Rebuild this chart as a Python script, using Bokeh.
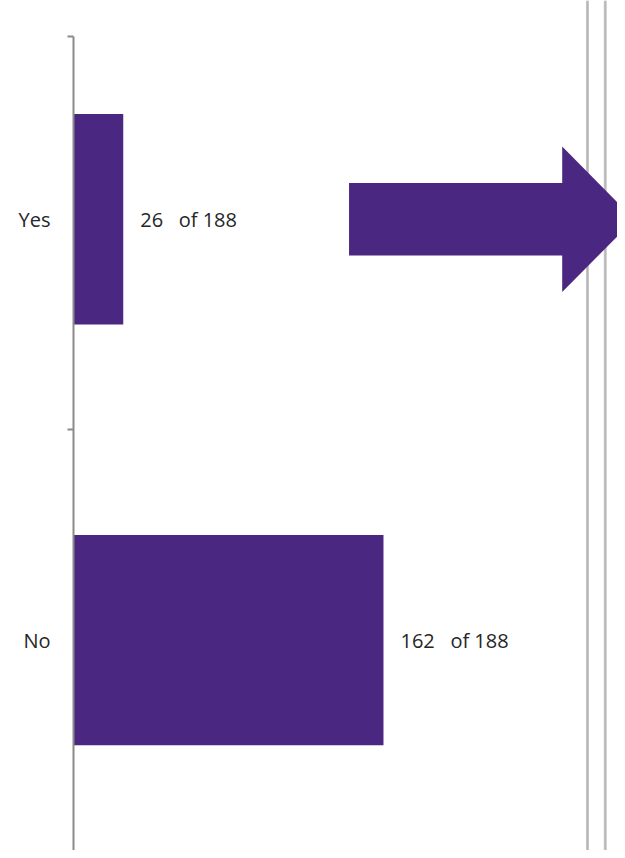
from bokeh.plotting import figure
from bokeh.models import Range1d, LinearAxis, FixedTicker, ColumnDataSource
from bokeh.core.properties import value
from bokeh.embed import file_html
from bokeh.resources import INLINE

# ---- data ----
categories = ["Yes", "No"]
counts = [26, 162]
total = 188

BAR_COLOR = "#4A2781"
FONT = "Open Sans"

n = len(categories)
ypos = [n - i - 0.5 for i in range(n)]
labels = [f"{c}\u00a0\u00a0 of {total}" for c in counts]

src = ColumnDataSource(dict(y=ypos, cnt=counts, lab=labels, cat=categories))

p = figure(width=617, height=850, output_backend="svg", toolbar_location=None,
           x_range=Range1d(0, 284.3), y_range=Range1d(0, 2.02),
           min_border_left=73, min_border_right=0, min_border_top=0, min_border_bottom=0,
           x_axis_location=None, y_axis_location=None)
p.outline_line_color = None
p.xgrid.visible = False
p.ygrid.visible = False
p.background_fill_color = "white"
p.border_fill_color = "white"

# decorative double vertical rules on right
p.segment(x0=[268.6, 277.9], y0=[0, 0], x1=[268.6, 277.9], y1=[2.02, 2.02],
          line_color="#c6c6c6", line_width=3)
p.segment(x0=[268.6, 277.9], y0=[0, 0], x1=[268.6, 277.9], y1=[2.02, 2.02],
          line_color="#b4b4b4", line_width=1)

# bars
p.hbar(y="y", left=0, right="cnt", height=0.5, source=src,
       fill_color=BAR_COLOR, line_color=None)

# value labels
p.text(x="cnt", y="y", text="lab", source=src, x_offset=17,
       text_baseline="middle", text_align="left",
       text_font=value(FONT), text_font_size="20px", text_color="#262626")

# arrow pointing right from Yes row
ay = 1.5
ax_start, ax_head, ax_tip = 144.0, 255.4, 293.0
sh, hh = 0.086, 0.173
p.patch(x=[ax_start, ax_head, ax_head, ax_tip, ax_head, ax_head, ax_start],
        y=[ay + sh, ay + sh, ay + hh, ay, ay - hh, ay - sh, ay - sh],
        fill_color=BAR_COLOR, line_color=None)

# category axis
yaxis = LinearAxis(ticker=FixedTicker(ticks=ypos, minor_ticks=[1.0, 1.935]),
                   major_label_overrides={yy: c for yy, c in zip(ypos, categories)},
                   bounds=(0, 1.935))
yaxis.axis_line_color = "#8a8a8a"
yaxis.axis_line_width = 2
yaxis.major_tick_line_color = None
yaxis.major_tick_out = 0
yaxis.major_tick_in = 0
yaxis.minor_tick_line_color = "#8a8a8a"
yaxis.minor_tick_line_width = 2
yaxis.minor_tick_out = 6
yaxis.minor_tick_in = 0
yaxis.major_label_standoff = 17
yaxis.major_label_text_font = FONT
yaxis.major_label_text_font_size = "20px"
yaxis.major_label_text_color = "#262626"
p.add_layout(yaxis, "left")

open("out.html", "w").write(file_html(p, INLINE))
